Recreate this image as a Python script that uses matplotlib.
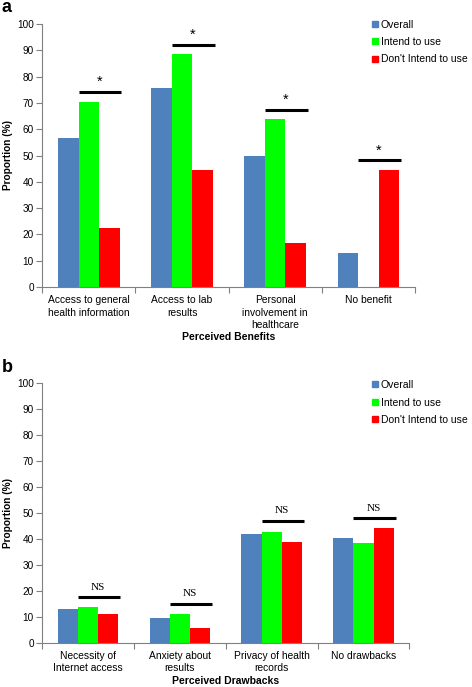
import matplotlib
matplotlib.use("Agg")
import matplotlib.pyplot as plt
import numpy as np
from matplotlib.lines import Line2D

plt.rcParams['font.family'] = ['Liberation Sans', 'DejaVu Sans']

series = ["Overall", "Intend to use", "Don't Intend to use"]
colors = ["#4F81BD", "#00FF00", "#FF0000"]

benefit_cats = ["Access to general\nhealth information", "Access to lab\nresults",
                "Personal\ninvolvement in\nhealthcare", "No benefit"]
benefit_overall = [56.6, 75.7, 50.0, 12.9]
benefit_intend = [70.4, 88.7, 63.8, 0.0]
benefit_dont = [22.4, 44.6, 16.6, 44.6]
benefit_sig_y = [74.2, 92.0, 67.3, 48.1]
benefit_sig_label = ["*", "*", "*", "*"]

drawback_cats = ["Necessity of\nInternet access", "Anxiety about\nresults",
                 "Privacy of health\nrecords", "No drawbacks"]
drawback_overall = [12.9, 9.5, 41.8, 40.2]
drawback_intend = [13.6, 11.2, 42.8, 38.6]
drawback_dont = [10.9, 5.7, 38.8, 44.3]
drawback_sig_y = [17.5, 15.0, 47.0, 47.9]
drawback_sig_label = ["NS", "NS", "NS", "NS"]

yticks = list(range(0, 101, 10))

W, H = 472, 687
fig = plt.figure(figsize=(W / 100, H / 100), dpi=100)


def panel(rect, cats, vals, sig_y, sig_lab, xlabel, xlabel_y, letter, letter_pos,
          serif_sig, leg_y):
    ax = fig.add_axes(rect)
    n = len(cats)
    x = np.arange(n)
    bw = 0.22
    for i, (v, c) in enumerate(zip(vals, colors)):
        ax.bar(x + (i - 1) * bw, v, bw, color=c, label=series[i], linewidth=0)
    for xi, yv, lab in zip(x, sig_y, sig_lab):
        ax.plot([xi - bw / 2, xi + 1.5 * bw + 0.02], [yv, yv], color='black', lw=2.2,
                solid_capstyle='butt')
        if serif_sig:
            ax.text(xi + bw * 0.5, yv + 2.2, lab, ha='center', va='bottom',
                    fontsize=8, family='Liberation Serif')
        else:
            ax.text(xi + bw * 0.5, yv + 1.2, lab, ha='center', va='bottom', fontsize=10.5)
    ax.set_xlim(-0.5, n - 0.5)
    ax.set_ylim(0, 100)
    ax.set_yticks(yticks)
    ax.set_yticklabels([str(t) for t in yticks], fontsize=7.2)
    ax.set_xticks(np.arange(n + 1) - 0.5)
    ax.set_xticklabels([])
    ax.set_xticks(x, minor=True)
    ax.set_xticklabels(cats, minor=True, fontsize=7.4, linespacing=1.3)
    ax.tick_params(axis='x', which='minor', length=0, pad=6)
    ax.tick_params(axis='x', which='major', length=4, direction='out', color='#808080')
    ax.tick_params(axis='y', length=4, direction='out', color='#808080', pad=2)
    for s in ['top', 'right']:
        ax.spines[s].set_visible(False)
    for s in ['left', 'bottom']:
        ax.spines[s].set_color('#808080')
        ax.spines[s].set_linewidth(0.8)
    ax.set_ylabel("Proportion (%)", fontsize=7.3, fontweight='bold', labelpad=3)
    pos = ax.get_position()
    fig.text((pos.x0 + pos.x1) / 2, 1 - xlabel_y / H, xlabel, fontsize=7.5,
             fontweight='bold', ha='center', va='center')
    fig.text(letter_pos[0], letter_pos[1], letter, fontsize=13, fontweight='bold',
             ha='left', va='center')
    handles = [Line2D([0], [0], marker='s', color='none', markerfacecolor=c,
                      markeredgecolor=c, markersize=4.2) for c in colors]
    fig.legend(handles, series, loc='upper left', bbox_to_anchor=(372 / W, leg_y),
               frameon=False, fontsize=7.5, handlelength=0.6, handletextpad=0.25,
               labelspacing=0.72, borderaxespad=0, borderpad=0)
    return ax


panel([42.3 / W, 1 - 287 / H, (415 - 42.3) / W, (287 - 24) / H],
      benefit_cats, [benefit_overall, benefit_intend, benefit_dont],
      benefit_sig_y, benefit_sig_label, "Perceived Benefits", 337.3, "a", (2 / W, 1 - 7 / H),
      False, 1 - 19.5 / H)
panel([42.3 / W, 1 - 642.7 / H, (409.3 - 42.3) / W, (642.7 - 383.3) / H],
      drawback_cats, [drawback_overall, drawback_intend, drawback_dont],
      drawback_sig_y, drawback_sig_label, "Perceived Drawbacks", 681.5, "b",
      (2 / W, 1 - 368 / H), True, 1 - 380 / H)

fig.savefig("out.png", dpi=100)
